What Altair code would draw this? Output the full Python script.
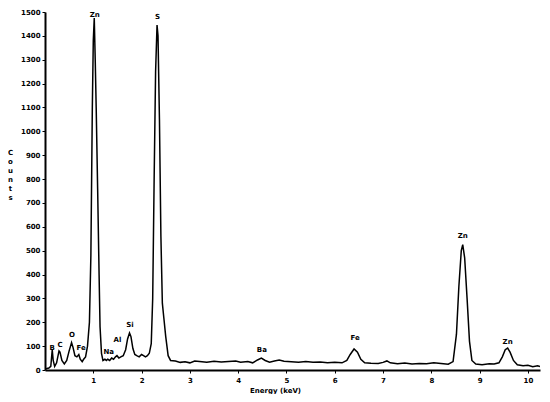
import altair as alt
import pandas as pd

energy = [0.02, 0.08, 0.12, 0.15, 0.17, 0.20, 0.24, 0.29, 0.31, 0.35, 0.40, 0.45, 0.50, 0.55, 0.58,
          0.62, 0.66, 0.70, 0.73, 0.77, 0.80, 0.84, 0.88, 0.92, 0.95, 0.98, 1.00, 1.02, 1.04, 1.06,
          1.09, 1.12, 1.14, 1.17, 1.20, 1.24, 1.27, 1.30, 1.34, 1.38, 1.42, 1.46, 1.49, 1.53, 1.57,
          1.62, 1.67, 1.71, 1.75, 1.78, 1.82, 1.86, 1.90, 1.95, 2.00, 2.04, 2.08, 2.12, 2.16, 2.20,
          2.23, 2.26, 2.29, 2.32, 2.34, 2.37, 2.40, 2.43, 2.46, 2.50, 2.55, 2.60, 2.70, 2.80, 2.90,
          3.00, 3.10, 3.20, 3.35, 3.50, 3.65, 3.80, 3.95, 4.05, 4.20, 4.30, 4.40, 4.48, 4.56, 4.65,
          4.75, 4.85, 4.95, 5.10, 5.25, 5.40, 5.55, 5.70, 5.85, 6.00, 6.15, 6.25, 6.32, 6.40, 6.47,
          6.54, 6.62, 6.75, 6.90, 7.00, 7.08, 7.15, 7.30, 7.45, 7.60, 7.75, 7.90, 8.05, 8.20, 8.35,
          8.45, 8.52, 8.57, 8.62, 8.65, 8.69, 8.74, 8.79, 8.84, 8.92, 9.05, 9.20, 9.30, 9.40, 9.47,
          9.53, 9.58, 9.63, 9.70, 9.78, 9.90, 10.00, 10.10, 10.20, 10.25]
counts = [5, 8, 15, 85, 40, 15, 30, 80, 75, 40, 25, 40, 80, 115, 95,
          60, 55, 65, 45, 35, 45, 55, 100, 200, 480, 1100, 1380, 1475, 1300, 1100,
          760, 400, 180, 70, 40, 45, 40, 45, 40, 50, 45, 55, 60, 50, 55,
          60, 85, 130, 155, 140, 90, 65, 60, 55, 65, 60, 55, 60, 70, 110,
          300, 800, 1250, 1445, 1400, 1050, 560, 280, 220, 140, 60, 40, 38, 32, 35,
          30, 38, 36, 33, 37, 34, 36, 38, 33, 36, 30, 42, 50, 40, 33,
          38, 42, 37, 35, 33, 36, 32, 34, 30, 32, 30, 40, 65, 88, 75,
          45, 30, 28, 27, 32, 38, 30, 26, 29, 25, 27, 26, 30, 27, 24,
          35, 150, 350, 500, 525, 470, 300, 120, 40, 25, 22, 26, 25, 30, 55,
          85, 92, 75, 40, 22, 18, 20, 14, 18, 15]

peak_labels = ["Zn", "S", "B", "C", "O", "Fe", "Na", "Al", "Si", "Ba", "Fe", "Zn", "Zn"]
peak_energy = [1.03, 2.33, 0.15, 0.31, 0.56, 0.75, 1.32, 1.50, 1.76, 4.49, 6.42, 8.65, 9.58]
peak_counts = [1487, 1478, 92, 105, 147, 92, 75, 125, 188, 84, 134, 561, 117]

x_ticks = [1, 2, 3, 4, 5, 6, 7, 8, 9, 10]
y_ticks = list(range(0, 1600, 100))

spec = pd.DataFrame({"energy": energy, "counts": counts})
labs = pd.DataFrame({"label": peak_labels, "energy": peak_energy, "counts": peak_counts})

FONT = "DejaVu Sans"

xscale = alt.Scale(domain=[0, 10.25], nice=False, zero=False)
yscale = alt.Scale(domain=[0, 1500], nice=False)

xaxis = alt.Axis(values=x_ticks, title="Energy (keV)", grid=False, tickSize=3,
                 labelFontSize=7, labelFontWeight="bold", labelFont=FONT,
                 titleFont=FONT, titleFontSize=7, titleFontWeight="bold",
                 titleX=230, titleY=20, titleBaseline="middle",
                 domainColor="black", domainWidth=2, tickColor="black",
                 labelColor="black", titleColor="black", labelPadding=3,
                 labelOverlap=False)
yaxis = alt.Axis(values=y_ticks, format="d", title=["C", "o", "u", "n", "t", "s"], grid=False,
                 tickSize=3, labelFontSize=7, labelFontWeight="bold", labelFont=FONT,
                 titleFont=FONT, titleFontSize=7, titleFontWeight="bold",
                 titleAngle=0, titleX=-35, titleY=136, titleBaseline="top",
                 titleLineHeight=9, titleAlign="center",
                 domainColor="black", domainWidth=2, tickColor="black",
                 labelColor="black", titleColor="black", labelPadding=2,
                 labelOverlap=False)

line = alt.Chart(spec).mark_line(color="black", strokeWidth=1.5, clip=True).encode(
    x=alt.X("energy:Q", scale=xscale, axis=xaxis),
    y=alt.Y("counts:Q", scale=yscale, axis=yaxis),
)

text = alt.Chart(labs).mark_text(font=FONT, fontSize=7, fontWeight="bold", color="black",
                                 baseline="middle").encode(
    x=alt.X("energy:Q", scale=xscale, axis=xaxis),
    y=alt.Y("counts:Q", scale=yscale, axis=yaxis),
    text="label:N",
)

chart = (line + text).properties(
    width=495, height=358,
    autosize=alt.AutoSizeParams(type="none"),
    padding={"left": 37, "top": 4, "right": 2, "bottom": 24},
).configure(background="white").configure_view(stroke=None)

chart.save("out.html", embed_options={"renderer": "svg", "actions": False})
